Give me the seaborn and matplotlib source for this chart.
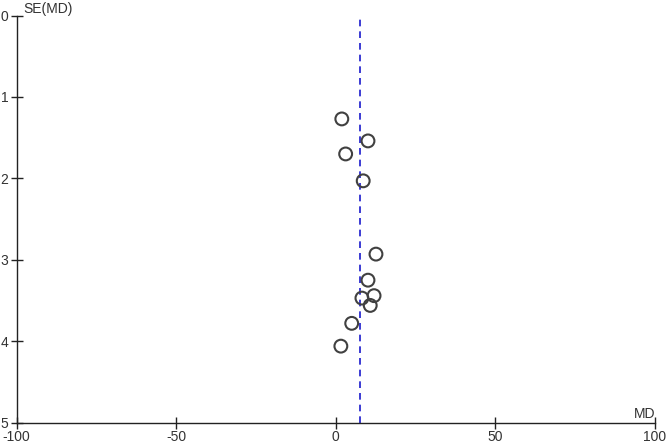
import matplotlib
matplotlib.use("Agg")
import matplotlib.pyplot as plt
import seaborn as sns
import pandas as pd

# study estimates
md = [1.9, 10.1, 3.1, 8.6, 12.6, 10.1, 12.0, 8.2, 10.8, 5.0, 1.6]
se_md = [1.27, 1.54, 1.70, 2.03, 2.93, 3.25, 3.44, 3.47, 3.56, 3.78, 4.06]
pooled_md = 7.7
x_ticks = [-100, -50, 0, 50, 100]
y_ticks = [0, 1, 2, 3, 4, 5]

df = pd.DataFrame({"MD": md, "SE": se_md})

sns.set_style("white")
plt.rcParams["font.family"] = ["Liberation Sans", "DejaVu Sans"]
plt.rcParams["axes.unicode_minus"] = False

fig = plt.figure(figsize=(6.69, 4.43), dpi=100)
ax = fig.add_axes([16.5 / 669, 1 - 422.7 / 443, (655 - 16.5) / 669, (422.7 - 15.5) / 443])

sns.scatterplot(data=df, x="MD", y="SE", ax=ax, s=85, facecolor="none",
                edgecolor="#404040", linewidth=1.5, legend=False, zorder=3)
ax.axvline(pooled_md, color="#1a1acc", linestyle=(0, (4, 3)), linewidth=1.2, zorder=2)

ax.set_xlim(-100, 100)
ax.set_ylim(5, 0)
ax.set_xticks(x_ticks)
ax.set_yticks(y_ticks)
ax.set_xlabel("")
ax.set_ylabel("")

for side in ["top", "right"]:
    ax.spines[side].set_visible(False)
for side in ["left", "bottom"]:
    ax.spines[side].set_color("#222222")
    ax.spines[side].set_linewidth(1.0)

ax.tick_params(axis="both", direction="inout", length=8, width=1.0, color="#222222",
               labelsize=10, labelcolor="#333333", pad=1, bottom=True, left=True)
ax.tick_params(axis="y", pad=2)

ax.text(0.01, 1.0, "SE(MD)", transform=ax.transAxes, fontsize=10, color="#333333",
        ha="left", va="bottom")
ax.text(1.0, 0.003, "MD", transform=ax.transAxes, fontsize=10, color="#333333",
        ha="right", va="bottom")

fig.savefig("out.png", dpi=100)
plt.close(fig)
